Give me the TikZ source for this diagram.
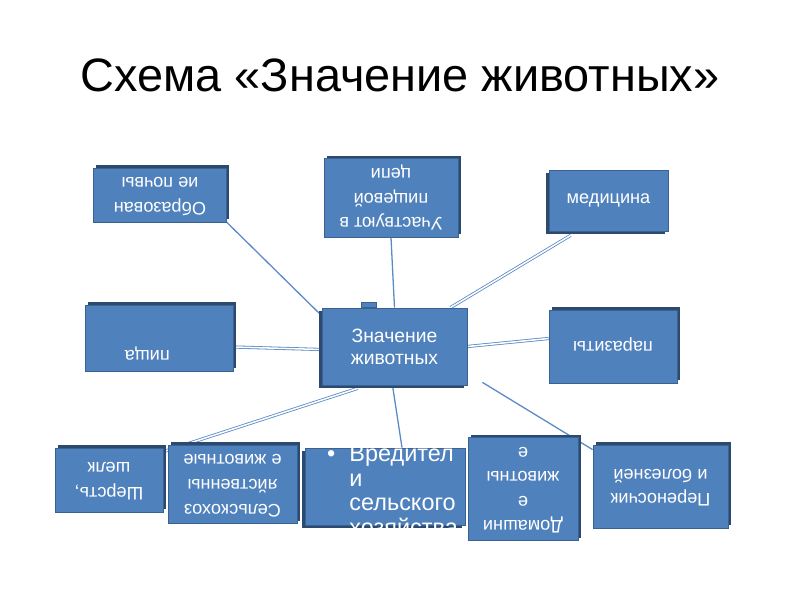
\documentclass[tikz,border=0pt]{standalone}
\usepackage{fontspec}
\setmainfont{Liberation Sans}
\usetikzlibrary{shadows,calc,backgrounds}
\definecolor{boxfill}{HTML}{4F81BD}
\definecolor{boxline}{HTML}{3A6291}
\definecolor{boxshade}{HTML}{2C4A70}
\definecolor{linkblue}{HTML}{5B8BC5}

% text turned upside down, as on the slide
\newcommand{\flip}[1]{\rotatebox[origin=c]{180}{\begin{tabular}{@{}c@{}}#1\end{tabular}}}
% move a text off the box centre
\newcommand{\nudge}[3]{\makebox[0pt]{\hspace*{#1}\hspace*{#1}\raisebox{#2}[0pt][0pt]{#3}}}

\begin{document}
\begin{tikzpicture}[x=0.3mm, y=-0.3mm,
  base/.style={rectangle, draw=boxline, line width=0.6pt, fill=boxfill, text=white, inner sep=2pt, align=center, font=\fontsize{15.5}{21}\selectfont},
  ubox/.style={base, drop shadow={shadow xshift=-2.5pt, shadow yshift=-2.5pt, fill=boxshade, opacity=1}},
  dbox/.style={base, drop shadow={shadow xshift=2.5pt, shadow yshift=2.5pt, fill=boxshade, opacity=1}},
  sz/.style 2 args={minimum width=#1*0.3mm, minimum height=#2*0.3mm},
  link/.style={draw=linkblue, line width=1.1pt},
  dlink/.style={draw=linkblue, double=white, double distance=1.3pt, line width=0.7pt}
]
  \useasboundingbox (0,0) rectangle (800,600);
  \node[font=\fontsize{40}{48}\selectfont] (title) at (400,75) {Схема «Значение животных»};

  % centre
  \node[ubox, sz={145}{77}, font=\fontsize{16.5}{19}\selectfont] (cen) at (394.5,346.5) {Значение\\животных};
  \filldraw[fill=boxfill, draw=boxline, line width=0.6pt] ($(cen.north west)+(40,0)$) rectangle ($(cen.north west)+(55,-5)$);

  % top row
  \node[dbox, sz={133}{54}] (obr) at (160,195) {\flip{Образован\\ие почвы}};
  \node[dbox, sz={134}{62}] (uch) at (391,198) {\flip{Участвуют в\\пищевой\\цепи}};
  \node[ubox, sz={119}{61}] (med) at (608.5,200.5) {медицина};

  % middle row
  \node[dbox, sz={148}{66}] (pis) at (159,338) {\nudge{-10pt}{-18.4pt}{\flip{пища}}};
  \node[dbox, sz={128}{73}] (par) at (613,346.5) {\flip{паразиты}};

  % bottom row
  \node[dbox, sz={108}{64}] (sher) at (109,480) {\flip{Шерсть,\\шелк}};
  \node[dbox, sz={129}{75}] (sel) at (232.5,484.5) {\flip{Сельскохоз\\яйственны\\е животные}};
  \node[ubox, sz={160}{77}, font=\fontsize{20}{21}\selectfont] (vred) at (385,486.5)
    {\nudge{6.4pt}{-11.4pt}{\begin{tabular}{@{}l@{\hspace{12pt}}l@{}}\textbullet & Вредител\\ & и\\ & сельского\\ & хозяйства\end{tabular}}};
  \node[dbox, sz={110}{82}] (dom) at (523,489) {\flip{Домашни\\е\\животны\\е}};
  \node[dbox, sz={135}{83}] (per) at (660.5,486.5) {\flip{Переносчик\\и болезней}};

  \begin{scope}[on background layer]
    \fill[white] (0,0) rectangle (800,600);
    \draw[link] (obr.south east) -- ($(cen.north west)+(2,10)$);
    \draw[link] (uch.south) -- (cen.north);
    \draw[dlink] ($(med.south west)+(22,4)$) -- ($(cen.north east)+(-17,0)$);
    \draw[dlink] ($(pis.east)+(0,9)$) -- ($(cen.west)+(0,3)$);
    \draw[dlink] (cen.east) -- ($(par.west)+(0,-8)$);
    \draw[dlink] ($(cen.south west)+(36,3)$) -- ($(sher.north east)+(0,4)$);
    \draw[link] ($(cen.south)+(-2,0)$) -- ($(vred.north)+(17,0)$);
    \draw[link] ($(cen.south east)+(15,-3)$) -- ($(per.north west)+(0,5)$);
  \end{scope}
\end{tikzpicture}
\end{document}
